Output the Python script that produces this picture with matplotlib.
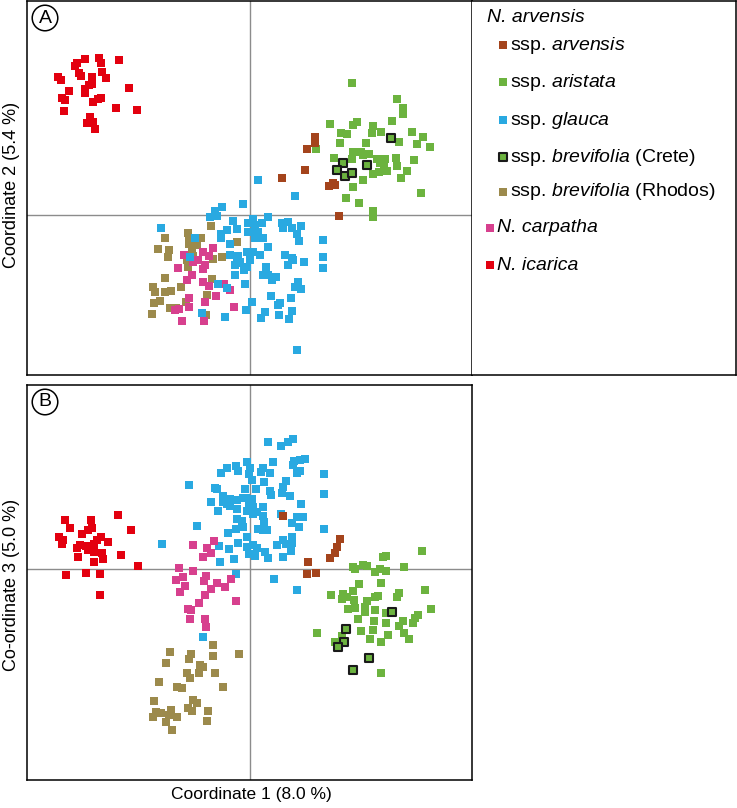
import matplotlib
matplotlib.use("Agg")
import matplotlib.pyplot as plt

plt.rcParams['font.family'] = ['Liberation Sans', 'DejaVu Sans']
plt.rcParams['mathtext.fontset'] = 'custom'
plt.rcParams['mathtext.rm'] = 'Liberation Sans'
plt.rcParams['mathtext.it'] = 'Liberation Sans:italic'

# ---------------- Panel A: Coordinate 1 vs Coordinate 2 ----------------
A_icarica_x = [-1.65,-1.73,-1.75,-1.51,-1.49,-1.31,-1.92,-1.89,-1.71,-1.69,-1.48,-1.44,-1.58,-1.58,-1.61,-1.65,-1.65,-1.81,-1.21,-1.88,-1.85,-1.57,-1.52,-1.49,-1.86,-1.34,-1.13,-1.60,-1.57,-1.63,-1.55]
A_icarica_y = [1.56,1.52,1.49,1.57,1.52,1.55,1.38,1.35,1.42,1.39,1.43,1.37,1.38,1.31,1.30,1.26,1.22,1.24,1.27,1.17,1.15,1.13,1.16,1.17,1.04,1.07,1.05,0.98,0.93,0.92,0.86]

A_aristata_x = [1.02,1.47,1.53,1.53,0.80,1.03,1.07,1.23,1.22,1.42,1.31,1.62,0.91,0.97,1.73,1.49,1.16,0.90,1.67,1.80,0.66,1.03,1.11,1.19,1.13,0.84,1.02,1.27,1.35,1.46,1.64,1.30,1.34,1.47,1.37,1.29,1.23,1.57,1.13,1.51,1.03,1.71,0.96,1.09,1.23,1.23]
A_aristata_y = [1.32,1.16,1.07,1.01,0.91,0.90,0.93,0.89,0.82,0.94,0.83,0.83,0.82,0.81,0.78,0.73,0.72,0.72,0.71,0.68,0.66,0.63,0.63,0.61,0.60,0.57,0.56,0.56,0.56,0.57,0.55,0.52,0.48,0.49,0.44,0.43,0.41,0.44,0.35,0.37,0.28,0.22,0.17,0.12,0.04,-0.02]

A_crete_x = [1.41,0.93,0.87,0.95,1.02,1.17]
A_crete_y = [0.77,0.52,0.45,0.39,0.42,0.50]

A_arvensis_x = [0.65,0.65,0.57,0.55,0.83,0.79,0.85,0.89,0.32]
A_arvensis_y = [0.78,0.72,0.66,0.45,0.32,0.29,0.30,-0.01,0.37]

A_glauca_x = [-0.28,-0.35,-0.33,-0.40,-0.07,-0.89,-0.55,-0.17,-0.13,-0.23,-0.29,-0.29,-0.02,-0.02,-0.20,-0.20,-0.12,-0.03,-0.10,0.00,-0.15,-0.60,0.08,0.45,0.18,0.03,0.05,0.12,0.02,0.08,0.05,0.13,0.18,0.32,0.38,0.33,0.42,0.51,0.47,0.49,0.73,0.03,0.10,0.35,0.42,0.43,0.54,0.73,0.16,0.38,0.73,-0.03,0.13,0.18,0.26,0.22,-0.05,0.48,0.45,0.51,0.21,0.41,0.30,0.28,0.02,-0.04,0.15,0.11,0.29,0.42,0.39,0.47,-0.13,-0.15,-0.32,-0.23,-0.48,-0.25,-0.06]
A_glauca_y = [0.08,0.04,-0.01,-0.02,0.11,-0.13,-0.23,-0.06,-0.14,-0.15,-0.19,-0.23,-0.08,-0.17,-0.29,-0.40,-0.41,-0.37,-0.47,-0.45,-0.50,-0.42,0.35,0.19,-0.02,-0.04,-0.10,-0.08,-0.17,-0.17,-0.23,-0.23,-0.32,-0.08,-0.07,-0.13,-0.13,-0.11,-0.19,-0.26,-0.25,-0.37,-0.40,-0.40,-0.43,-0.45,-0.47,-0.42,-0.52,-0.50,-0.53,-0.52,-0.60,-0.60,-0.62,-0.65,-0.69,-0.67,-0.72,-0.74,-0.81,-0.83,-0.88,-0.90,-0.87,-0.95,-0.97,-1.03,-1.00,-0.96,-1.04,-1.35,-0.48,-0.60,-0.69,-0.73,-0.98,-1.02,-0.55]

A_rhodos_x = [-0.39,-0.85,-0.62,-0.61,-0.49,-0.92,-0.81,-0.82,-0.61,-0.53,-0.58,-0.57,-0.13,-0.28,-0.37,-0.63,-0.62,-0.85,-0.38,-0.97,-0.95,-0.69,-0.85,-0.79,-0.43,-0.64,-0.90,-0.96,-0.80,-0.74,-0.98,-0.44]
A_rhodos_y = [-0.11,-0.23,-0.18,-0.23,-0.23,-0.34,-0.35,-0.42,-0.29,-0.30,-0.35,-0.41,-0.27,-0.42,-0.44,-0.45,-0.52,-0.63,-0.64,-0.72,-0.77,-0.72,-0.77,-0.76,-0.80,-0.87,-0.86,-0.88,-0.93,-0.93,-0.99,-1.00]

A_carpatha_x = [-0.37,-0.66,-0.47,-0.41,-0.52,-0.57,-0.45,-0.72,-0.47,-0.58,-0.63,-0.47,-0.41,-0.26,-0.20,-0.34,-0.61,-0.45,-0.61,-0.75,-0.71,-0.16,-0.68,-0.46]
A_carpatha_y = [-0.33,-0.40,-0.37,-0.41,-0.45,-0.47,-0.50,-0.53,-0.54,-0.60,-0.65,-0.67,-0.71,-0.69,-0.75,-0.81,-0.83,-0.87,-0.92,-0.95,-0.94,-0.92,-1.06,-1.06]

# ---------------- Panel B: Coordinate 1 vs Co-ordinate 3 ----------------
B_icarica_x = [-1.85,-1.59,-1.32,-1.80,-1.62,-1.58,-1.19,-1.68,-1.91,-1.87,-1.88,-1.49,-1.53,-1.42,-1.70,-1.64,-1.73,-1.56,-1.62,-1.56,-1.48,-1.72,-1.47,-1.29,-1.56,-1.12,-1.84,-1.64,-1.50,-1.50]
B_icarica_y = [0.49,0.49,0.54,0.41,0.39,0.41,0.39,0.35,0.32,0.29,0.25,0.32,0.29,0.27,0.24,0.23,0.21,0.25,0.19,0.17,0.16,0.12,0.10,0.14,0.07,0.03,-0.06,-0.04,-0.05,-0.26]

B_glauca_x = [-0.03,-0.14,-0.12,-0.23,-0.29,0.00,-0.01,-0.61,-0.35,-0.33,-0.05,-0.27,-0.20,-0.27,-0.23,-0.13,-0.07,-0.04,-0.39,-0.20,-0.13,-0.01,-0.03,0.03,-0.32,-0.13,-0.08,-0.07,-0.14,-0.53,-0.22,-0.03,-0.12,-0.88,-0.31,-0.21,-0.03,
              0.18,0.31,0.38,0.43,0.23,0.44,0.55,0.50,0.43,0.50,0.47,0.13,0.11,0.20,0.74,0.02,0.14,0.36,0.33,0.32,0.40,0.20,0.21,0.06,0.74,0.51,0.02,0.03,0.13,0.07,0.13,0.14,0.31,0.47,0.53,0.42,0.49,0.08,0.13,0.17,0.74,0.42,0.33,0.27,0.36,0.42,0.03,0.07,0.15,0.41,0.05,0.18,0.33,0.24,
              -0.16,-0.30,-0.01,-0.14,-0.47,0.47]
B_glauca_y = [1.07,1.03,0.98,1.01,0.96,1.01,0.95,0.84,0.81,0.80,0.80,0.73,0.70,0.67,0.65,0.69,0.71,0.71,0.67,0.63,0.60,0.63,0.58,0.55,0.58,0.50,0.48,0.42,0.40,0.43,0.36,0.32,0.26,0.25,0.23,0.20,0.22,
              1.27,1.23,1.27,1.30,1.07,1.08,1.10,1.09,1.04,0.98,0.96,1.01,0.97,0.96,0.95,0.89,0.87,0.88,0.82,0.76,0.73,0.78,0.74,0.80,0.75,0.65,0.70,0.62,0.62,0.57,0.53,0.47,0.55,0.52,0.52,0.46,0.42,0.40,0.39,0.39,0.40,0.32,0.29,0.24,0.25,0.26,0.24,0.21,0.17,0.18,0.13,0.11,0.12,-0.10,
              0.10,0.07,0.15,-0.05,-0.68,-0.21]

B_arvensis_x = [0.33,0.90,0.87,0.85,0.80,0.58,0.57,0.66]
B_arvensis_y = [0.53,0.30,0.22,0.16,0.11,0.07,-0.05,-0.04]

B_aristata_x = [1.33,1.36,1.72,1.03,1.05,1.13,1.17,1.25,1.30,1.36,1.54,1.09,1.31,1.75,0.81,0.93,1.03,0.92,0.97,1.04,1.25,1.28,1.49,1.47,1.17,0.98,1.05,1.15,1.15,1.25,1.36,1.68,1.81,1.08,1.24,1.36,1.53,1.49,1.65,1.63,1.11,1.23,1.38,1.54,0.67,1.20,1.31,1.59,0.85,0.92,1.31]
B_aristata_y = [0.12,0.13,0.18,0.02,0.00,0.04,0.03,-0.03,0.00,-0.02,0.02,-0.15,-0.14,-0.21,-0.26,-0.25,-0.22,-0.30,-0.28,-0.31,-0.28,-0.27,-0.24,-0.28,-0.32,-0.40,-0.39,-0.38,-0.43,-0.41,-0.44,-0.46,-0.40,-0.50,-0.52,-0.54,-0.52,-0.57,-0.49,-0.54,-0.62,-0.61,-0.66,-0.64,-0.64,-0.70,-0.73,-0.70,-0.73,-0.67,-1.04]

B_crete_x = [1.42,0.96,0.94,0.88,1.19,1.03]
B_crete_y = [-0.43,-0.60,-0.73,-0.78,-0.89,-1.01]

B_carpatha_x = [-0.36,-0.57,-0.43,-0.39,-0.47,-0.71,-0.57,-0.74,-0.67,-0.44,-0.46,-0.65,-0.33,-0.19,-0.25,-0.39,-0.70,-0.45,-0.14,-0.51,-0.62,-0.59,-0.60,-0.45,-0.44]
B_carpatha_y = [0.28,0.24,0.21,0.16,0.12,0.01,-0.02,-0.11,-0.08,-0.07,-0.12,-0.17,-0.14,-0.10,-0.18,-0.20,-0.23,-0.26,-0.32,-0.34,-0.40,-0.41,-0.50,-0.50,-0.58]

B_rhodos_x = [-0.37,-0.80,-0.59,-0.61,-0.37,-0.11,-0.84,-0.50,-0.47,-0.51,-0.63,-0.60,-0.35,-0.91,-0.73,-0.68,-0.27,-0.96,-0.57,-0.53,-0.62,-0.58,-0.42,-0.94,-0.89,-0.79,-0.81,-0.97,-0.73,-0.84,-0.43,-0.78]
B_rhodos_y = [-0.76,-0.83,-0.85,-0.90,-0.87,-0.85,-0.94,-0.96,-0.98,-1.04,-1.04,-1.09,-1.04,-1.13,-1.18,-1.19,-1.18,-1.32,-1.31,-1.34,-1.39,-1.42,-1.42,-1.43,-1.44,-1.41,-1.46,-1.48,-1.48,-1.53,-1.52,-1.61]

# ---------------- colours ----------------
C_ICARICA = '#E3000F'
C_ARVENSIS = '#A4441C'
C_ARISTATA = '#6CB33F'
C_GLAUCA = '#29A9E1'
C_RHODOS = '#9C8A4C'
C_CARPATHA = '#D7408E'

W, H = 737, 808
fig = plt.figure(figsize=(W / 100, H / 100), dpi=100)

def px_axes(x0, y0, x1, y1):
    return fig.add_axes([x0 / W, 1 - y1 / H, (x1 - x0) / W, (y1 - y0) / H])

axA = px_axes(27, 1, 472, 375)
axL = px_axes(472, 1, 736, 375)
axB = px_axes(27, 385, 472, 780)

MS = 32

def draw(ax, groups, crete):
    ax.axvline(0, color='#8c8c8c', lw=1.0, zorder=1)
    ax.axhline(0, color='#8c8c8c', lw=1.0, zorder=1)
    for xs, ys, c in groups:
        ax.scatter(xs, ys, s=MS, marker='s', color=c, linewidths=0, zorder=3)
    xs, ys = crete
    ax.scatter(xs, ys, s=MS, marker='s', facecolor=C_ARISTATA, edgecolor='#1a1a1a',
               linewidths=1.5, zorder=4)
    ax.set_xlim(-2.23, 2.22)
    ax.set_xticks([])
    ax.set_yticks([])
    for sp in ax.spines.values():
        sp.set_linewidth(1.1)
        sp.set_color('black')
        sp.set_zorder(5)

draw(axA, [(A_icarica_x, A_icarica_y, C_ICARICA),
           (A_rhodos_x, A_rhodos_y, C_RHODOS),
           (A_carpatha_x, A_carpatha_y, C_CARPATHA),
           (A_glauca_x, A_glauca_y, C_GLAUCA),
           (A_aristata_x, A_aristata_y, C_ARISTATA),
           (A_arvensis_x, A_arvensis_y, C_ARVENSIS)],
     (A_crete_x, A_crete_y))
axA.set_ylim(-1.60, 2.14)

draw(axB, [(B_icarica_x, B_icarica_y, C_ICARICA),
           (B_rhodos_x, B_rhodos_y, C_RHODOS),
           (B_glauca_x, B_glauca_y, C_GLAUCA),
           (B_carpatha_x, B_carpatha_y, C_CARPATHA),
           (B_aristata_x, B_aristata_y, C_ARISTATA),
           (B_arvensis_x, B_arvensis_y, C_ARVENSIS)],
     (B_crete_x, B_crete_y))
axB.set_ylim(-2.11, 1.84)

# panel letters (circled)
for ax, lab, h in [(axA, 'A', 374), (axB, 'B', 395)]:
    ax.text(18 / 445, 1 - 17 / h, lab, transform=ax.transAxes,
            ha='center', va='center', fontsize=14, zorder=6,
            bbox=dict(boxstyle='circle,pad=0.22', fc='white', ec='black', lw=1.1))

# axis labels
fig.text(12 / W, 1 - 185 / H, 'Coordinate 2 (5.4 %)', rotation=90, ha='center', va='center', fontsize=13)
fig.text(12 / W, 1 - 585 / H, 'Co-ordinate 3 (5.0 %)', rotation=90, ha='center', va='center', fontsize=13)
fig.text(251 / W, 1 - 795 / H, 'Coordinate 1 (8.0 %)', ha='center', va='center', fontsize=12.5)

# legend panel
axL.set_xlim(472, 736)
axL.set_ylim(375, 1)
axL.set_xticks([])
axL.set_yticks([])
for sp in axL.spines.values():
    sp.set_linewidth(1.1)
axL.spines['left'].set_visible(False)

legend_rows = [
    (None, None, 'N. arvensis', True, 487, 17),
    (C_ARVENSIS, None, r'ssp. $\mathit{arvensis}$', False, 500, 45),
    (C_ARISTATA, None, r'ssp. $\mathit{aristata}$', False, 500, 82),
    (C_GLAUCA, None, r'ssp. $\mathit{glauca}$', False, 500, 120),
    (C_ARISTATA, '#1a1a1a', r'ssp. $\mathit{brevifolia}$ (Crete)', False, 500, 157),
    (C_RHODOS, None, r'ssp. $\mathit{brevifolia}$ (Rhodos)', False, 500, 192),
    (C_CARPATHA, None, 'N. carpatha', True, 487, 228),
    (C_ICARICA, None, 'N. icarica', True, 487, 265),
]
for col, ec, label, ital, mx, my in legend_rows:
    tx = mx
    if col is not None:
        if ec is None:
            axL.scatter([mx + 3], [my], s=MS, marker='s', color=col, linewidths=0)
        else:
            axL.scatter([mx + 3], [my], s=MS, marker='s', facecolor=col, edgecolor=ec, linewidths=1.5)
        tx = mx + 10
    axL.text(tx, my, label, ha='left', va='center', fontsize=14,
             style='italic' if ital else 'normal')

fig.savefig('out.png', dpi=100)
